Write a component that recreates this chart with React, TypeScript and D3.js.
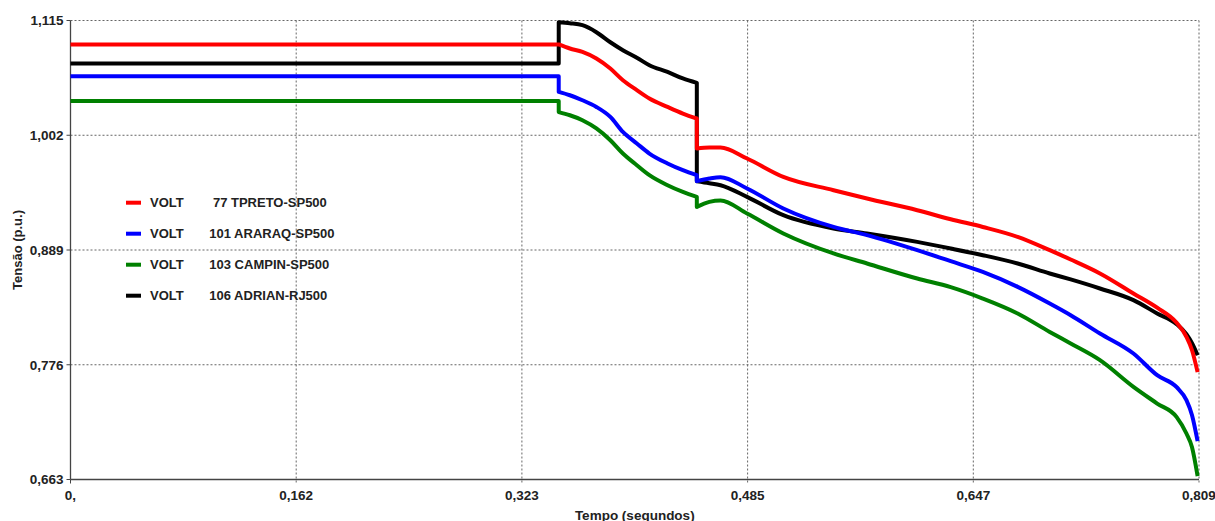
import React from 'react';
import * as d3 from 'd3';

// time (s) shared by all four series; repeated times are the switching steps
const TIME = [0, 0.35, 0.35, 0.358, 0.367, 0.377, 0.387, 0.396, 0.406, 0.415, 0.428, 0.439, 0.449, 0.449, 0.458, 0.466, 0.485, 0.511, 0.547, 0.571, 0.607, 0.631, 0.654, 0.679, 0.702, 0.717, 0.738, 0.762, 0.779, 0.793, 0.8, 0.804, 0.808];

const V_TPRETO = [1.0914, 1.0914, 1.0914, 1.0874, 1.0841, 1.0776, 1.0677, 1.0562, 1.0464, 1.0382, 1.0299, 1.0234, 1.0185, 0.989, 0.9899, 0.9899, 0.9791, 0.961, 0.9479, 0.9397, 0.9282, 0.9193, 0.9117, 0.9019, 0.8888, 0.8796, 0.8659, 0.8462, 0.8322, 0.8173, 0.8035, 0.7903, 0.7687];
const V_ARARAQ = [1.0601, 1.0601, 1.0447, 1.0414, 1.0365, 1.0299, 1.0201, 1.0053, 0.9939, 0.984, 0.9742, 0.9676, 0.9627, 0.9568, 0.9594, 0.9607, 0.9496, 0.9299, 0.9117, 0.9036, 0.8888, 0.878, 0.8674, 0.8527, 0.8363, 0.8248, 0.8068, 0.7871, 0.7657, 0.7539, 0.7411, 0.7263, 0.7007];
const V_CAMPIN = [1.0358, 1.0358, 1.0248, 1.0217, 1.0168, 1.0087, 0.9971, 0.984, 0.9725, 0.9627, 0.9528, 0.9462, 0.9413, 0.9314, 0.9364, 0.9378, 0.9249, 0.9053, 0.8856, 0.8757, 0.8609, 0.8524, 0.8412, 0.8265, 0.8083, 0.7969, 0.7805, 0.7542, 0.7378, 0.7244, 0.7083, 0.6948, 0.6663];
const V_ADRIAN = [1.0727, 1.0727, 1.1133, 1.1123, 1.1104, 1.1035, 1.0936, 1.0858, 1.0784, 1.071, 1.0644, 1.0579, 1.0536, 0.9568, 0.9548, 0.9528, 0.9413, 0.9233, 0.9102, 0.9053, 0.897, 0.8905, 0.8839, 0.8757, 0.8659, 0.86, 0.8511, 0.8396, 0.8265, 0.8159, 0.8061, 0.7972, 0.7854];

const LEGEND_NAMES = [' 77 TPRETO-SP500', '101 ARARAQ-SP500', '103 CAMPIN-SP500', '106 ADRIAN-RJ500'];
const X_TICKS = [0, 0.1618, 0.3236, 0.4854, 0.6472, 0.809];
const X_TICK_LABELS = ['0,', '0,162', '0,323', '0,485', '0,647', '0,809'];
const Y_TICKS = [0.663, 0.776, 0.889, 1.002, 1.115];
const Y_TICK_LABELS = ['0,663', '0,776', '0,889', '1,002', '1,115'];

const series = [
  { name: LEGEND_NAMES[0], values: V_TPRETO, color: '#ff0000' },
  { name: LEGEND_NAMES[1], values: V_ARARAQ, color: '#0000ff' },
  { name: LEGEND_NAMES[2], values: V_CAMPIN, color: '#008000' },
  { name: LEGEND_NAMES[3], values: V_ADRIAN, color: '#000000' },
];

const width = 1215;
const height = 521;
const font = '"Liberation Sans", Arial, sans-serif';

export default function App() {
  const x = d3.scaleLinear().domain([0, 0.809]).range([70.5, 1199]);
  const y = d3.scaleLinear().domain([0.663, 1.115]).range([479.5, 20.5]);

  const line = d3.line<[number, number]>()
    .x(d => x(d[0]))
    .y(d => y(d[1]))
    .curve(d3.curveMonotoneX);

  // smooth each piece between switching steps, join pieces with straight vertical steps
  const pathFor = (values: number[]) => {
    const pieces: [number, number][][] = [[]];
    TIME.forEach((t, i) => {
      if (i > 0 && t === TIME[i - 1]) pieces.push([]);
      pieces[pieces.length - 1].push([t, values[i]]);
    });
    return pieces
      .map((p, k) => {
        const d = line(p) || '';
        return k === 0 ? d : 'L' + d.slice(1);
      })
      .join('');
  };

  // draw black first so the coloured steps sit on top of it
  const drawOrder = [3, 2, 1, 0];

  return (
    <svg width={width} height={height} style={{ position: 'absolute', left: 0, top: 0, background: '#fff' }}>
      {/* grid */}
      {Y_TICKS.slice(1).map(t => (
        <line key={'gy' + t} x1={x(0)} x2={x(0.809)} y1={y(t)} y2={y(t)}
          stroke="#666" strokeWidth={1} strokeDasharray="2,2" />
      ))}
      {X_TICKS.slice(1).map(t => (
        <line key={'gx' + t} x1={x(t)} x2={x(t)} y1={y(1.115)} y2={y(0.663) + 4}
          stroke="#666" strokeWidth={1} strokeDasharray="2,2" />
      ))}

      {/* axes */}
      <line x1={x(0)} x2={x(0)} y1={y(1.115)} y2={y(0.663)} stroke="#444" strokeWidth={1.3} />
      <line x1={x(0)} x2={x(0.809)} y1={y(0.663)} y2={y(0.663)} stroke="#444" strokeWidth={1.3} />
      {Y_TICKS.map(t => (
        <line key={'ty' + t} x1={x(0) - 4} x2={x(0)} y1={y(t)} y2={y(t)} stroke="#444" strokeWidth={1} />
      ))}
      <line x1={x(0)} x2={x(0)} y1={y(0.663)} y2={y(0.663) + 4} stroke="#444" strokeWidth={1} />

      {Y_TICKS.map((t, i) => (
        <text key={'ly' + t} x={x(0) - 7} y={y(t)} dy="0.36em" textAnchor="end"
          fontFamily={font} fontWeight="bold" fontSize={13.5} fill="#222">{Y_TICK_LABELS[i]}</text>
      ))}
      {X_TICKS.map((t, i) => (
        <text key={'lx' + t} x={x(t)} y={500} textAnchor="middle"
          fontFamily={font} fontWeight="bold" fontSize={13.5} fill="#222">{X_TICK_LABELS[i]}</text>
      ))}

      <text x={(x(0) + x(0.809)) / 2} y={519.5} textAnchor="middle"
        fontFamily={font} fontWeight="bold" fontSize={13.5} fill="#222">Tempo (segundos)</text>
      <text transform={`translate(22,${(y(0.663) + y(1.115)) / 2}) rotate(-90)`} textAnchor="middle"
        fontFamily={font} fontWeight="bold" fontSize={13} fill="#222">Tensão (p.u.)</text>

      {/* series */}
      {drawOrder.map(i => (
        <path key={'s' + i} d={pathFor(series[i].values)} fill="none"
          stroke={series[i].color} strokeWidth={4} strokeLinejoin="round" />
      ))}

      {/* legend */}
      {series.map((s, i) => (
        <g key={'lg' + i} transform={`translate(0,${202.7 + i * 31})`}>
          <line x1={126} x2={141} y1={0} y2={0} stroke={s.color} strokeWidth={4} />
          <text x={150} y={0} dy="0.36em" fontFamily={font} fontWeight="bold" fontSize={13} fill="#222">VOLT</text>
          <text x={209.3} y={0} dy="0.36em" fontFamily={font} fontWeight="bold" fontSize={13} fill="#222"
            style={{ whiteSpace: 'pre' }}>{s.name}</text>
        </g>
      ))}
    </svg>
  );
}
